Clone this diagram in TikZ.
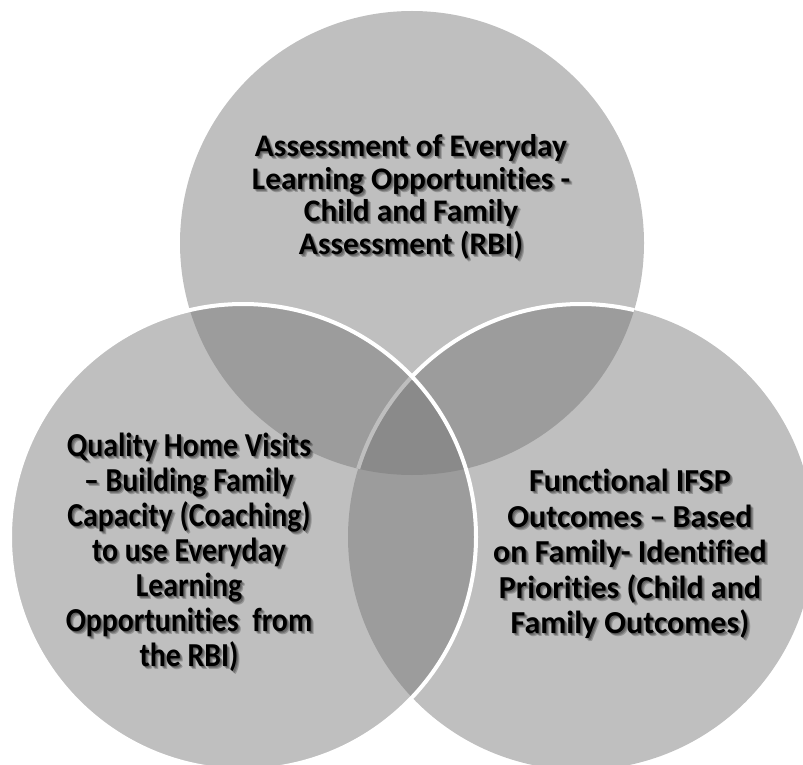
\documentclass[tikz,border=0pt]{standalone}
\usepackage{fontspec}
\setmainfont{Carlito}[Ligatures=NoCommon]
\newcommand\toplines{Assessment of Everyday\\Learning Opportunities -\\Child and Family\\Assessment (RBI)}
\newcommand\leftlines{Quality Home Visits\\– Building Family\\Capacity (Coaching)\\to use Everyday\\Learning\\Opportunities~ from\\the RBI)}
\newcommand\rightlines{Functional IFSP\\Outcomes – Based\\on Family- Identified\\Priorities (Child and\\Family Outcomes)}
\begin{document}
\begin{tikzpicture}[x=1pt,y=-1pt,
  venn/.style={fill=black!55, fill opacity=0.46},
  rim/.style={draw=white, line width=4pt},
  vtext/.style={align=center, text=black, inner sep=0pt},
  toptext/.style={vtext, font=\bfseries\fontsize{31.4}{32.5}\selectfont},
  lefttext/.style={vtext, font=\bfseries\fontsize{33.5}{35}\selectfont, xscale=0.89, transform shape},
  righttext/.style={vtext, font=\bfseries\fontsize{32}{35.5}\selectfont},
  vshadow/.style={text opacity=0.22}]
\useasboundingbox (0,0) rectangle (803,765);
% three overlapping discs
\fill[venn] (412,243) circle[radius=232];
\fill[venn] (581,537) circle[radius=233];
\begin{scope}
  \clip (412,243) circle[radius=232];
  \draw[rim] (581,537) circle[radius=233];
\end{scope}
\fill[venn] (243,537) circle[radius=233];
\draw[rim] (243,537) circle[radius=233];
% soft drop shadows under the labels
\foreach \d in {1,2,3}{
  \node[toptext, vshadow] (topshade\d) at (411+\d,197+\d) {\toplines};
  \node[lefttext, vshadow] (leftshade\d) at (189+\d,552+\d) {\leftlines};
  \node[righttext, vshadow] (rightshade\d) at (630+\d,554+\d) {\rightlines};
}
% labels
\node[toptext] (toplabel) at (411,197) {\toplines};
\node[lefttext] (leftlabel) at (189,552) {\leftlines};
\node[righttext] (rightlabel) at (630,554) {\rightlines};
\end{tikzpicture}
\end{document}
